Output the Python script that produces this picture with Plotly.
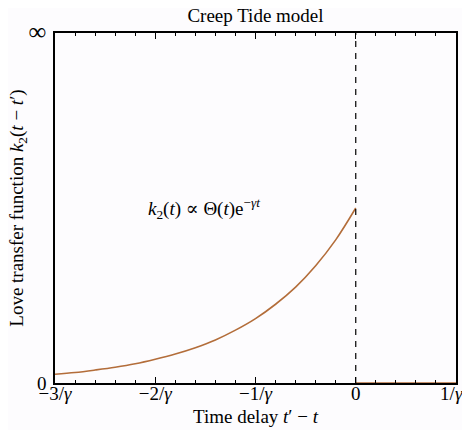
import plotly.graph_objects as go

# Data (time delay in units of 1/gamma, normalised response)
delay = [-3.0, -2.8, -2.6, -2.4, -2.2, -2.0, -1.8, -1.6, -1.4, -1.2,
         -1.0, -0.8, -0.6, -0.4, -0.2, 0.0]
response = [0.025, 0.030, 0.037, 0.045, 0.055, 0.068, 0.083, 0.101, 0.123, 0.151,
            0.184, 0.225, 0.274, 0.335, 0.409, 0.500]
future_delay = [0.0, 1.0]
future_response = [0.0, 0.0]

x_tickvals = [-3, -2, -1, 0, 1]
x_ticktext = ["−3/<i>γ</i>", "−2/<i>γ</i>", "−1/<i>γ</i>", "0", "1/<i>γ</i>\u2002"]
x_minorvals = [-2.8, -2.6, -2.4, -2.2, -1.8, -1.6, -1.4, -1.2, -0.8, -0.6, -0.4, -0.2,
               0.2, 0.4, 0.6, 0.8]
y_tickvals = [0, 1]
y_ticktext = ["0", "<span style='font-size:25px'>∞</span>"]

curve_color = "#b36d3a"
font_family = "Liberation Serif, DejaVu Serif, serif"
bg = "#fdfcfe"

# The page adds an 8px body margin, so the figure is 8px smaller and margins shifted
W, H = 462, 422

fig = go.Figure()
fig.add_trace(go.Scatter(x=delay, y=response, mode="lines",
                         line=dict(color=curve_color, width=1.6, shape="spline"),
                         showlegend=False, hoverinfo="skip"))
fig.add_trace(go.Scatter(x=future_delay, y=future_response, mode="lines",
                         line=dict(color=curve_color, width=1.6),
                         showlegend=False, hoverinfo="skip", cliponaxis=False))

fig.add_shape(type="line", xref="x", yref="paper", x0=0, x1=0, y0=0, y1=1,
              line=dict(color="black", width=1.2, dash="6px,6px"))

fig.add_annotation(x=-1.51, y=0.5, xref="x", yref="y",
                   text="<i>k</i><sub>2</sub>(<i>t</i>) ∝ Θ(<i>t</i>)e<sup>−<i>γt</i></sup>",
                   showarrow=False, font=dict(size=19, color="black", family=font_family))

# axis titles as annotations for exact placement
fig.add_annotation(x=0.5, y=-0.097, xref="paper", yref="paper", xanchor="center", yanchor="middle",
                   text="Time delay <i>t</i>′ − <i>t</i>", showarrow=False,
                   font=dict(size=19, color="black", family=font_family))
fig.add_annotation(x=-0.093, y=0.5, xref="paper", yref="paper", xanchor="center", yanchor="middle",
                   textangle=-90,
                   text="Love transfer function <i>k</i><sub>2</sub>(<i>t</i> − <i>t</i>′)",
                   showarrow=False, font=dict(size=19, color="black", family=font_family))

fig.update_layout(
    width=W, height=H,
    margin=dict(l=47, r=14, t=25, b=47, autoexpand=False),
    paper_bgcolor=bg, plot_bgcolor=bg,
    font=dict(family=font_family, size=19, color="black"),
    title=dict(text="Creep Tide model", x=0.5, xanchor="center", xref="paper",
               y=0.983, yanchor="middle", automargin=False,
               font=dict(size=19, family=font_family)),
    xaxis=dict(range=[-3, 1], tickvals=x_tickvals, ticktext=x_ticktext,
               showgrid=False, zeroline=False, showline=True, linecolor="black",
               linewidth=1.5, mirror="allticks", ticks="inside", ticklen=6,
               tickcolor="black", tickwidth=1, automargin=False,
               ticklabelstandoff=-8, ticklabeloverflow="allow",
               minor=dict(tickmode="array", tickvals=x_minorvals, ticks="inside",
                          ticklen=3, tickcolor="black", tickwidth=1, showgrid=False),
               tickfont=dict(size=19)),
    yaxis=dict(range=[0, 1], tickvals=y_tickvals, ticktext=y_ticktext,
               showgrid=False, zeroline=False, showline=True, linecolor="black",
               linewidth=1.5, mirror=True, ticks="", automargin=False,
               ticklabelstandoff=3, ticklabeloverflow="allow",
               tickfont=dict(size=19)),
)

fig.write_html("out.html")
